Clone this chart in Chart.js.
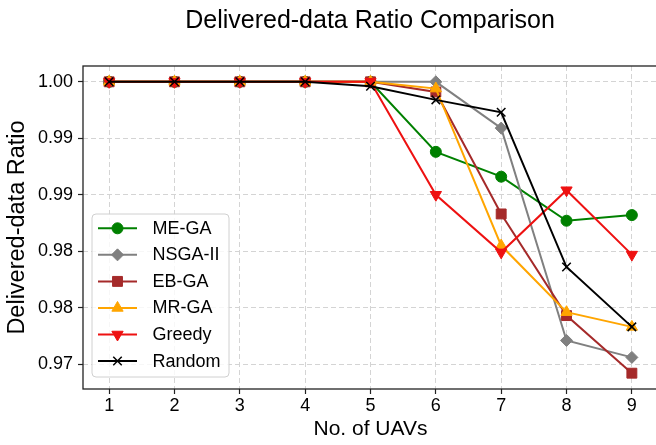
<!DOCTYPE html>
<html>
<head>
<meta charset="utf-8">
<script src="https://cdn.jsdelivr.net/npm/chart.js@4/dist/chart.umd.min.js"></script>
<style>
html,body{margin:0;padding:0;background:#fff;overflow:hidden;}
#wrap{width:666px;height:445px;}
</style>
</head>
<body>
<div id="wrap"><canvas id="c" width="666" height="445"></canvas></div>
<script>
// ---- data ----
const chartTitle = 'Delivered-data Ratio Comparison';
const uavCounts = [1, 2, 3, 4, 5, 6, 7, 8, 9];
const seriesNames = ['ME-GA', 'NSGA-II', 'EB-GA', 'MR-GA', 'Greedy', 'Random'];
const meGA    = [1.0, 1.0, 1.0, 1.0, 1.0,    0.9938, 0.9916, 0.9877, 0.9882];
const nsgaII  = [1.0, 1.0, 1.0, 1.0, 1.0,    1.0,    0.9959, 0.9771, 0.9756];
const ebGA    = [1.0, 1.0, 1.0, 1.0, 1.0,    0.9991, 0.9883, 0.9793, 0.9742];
const mrGA    = [1.0, 1.0, 1.0, 1.0, 1.0,    0.9994, 0.9855, 0.9796, 0.9783];
const greedy  = [1.0, 1.0, 1.0, 1.0, 1.0,    0.9900, 0.9849, 0.9904, 0.9847];
const randomS = [1.0, 1.0, 1.0, 1.0, 0.9996, 0.9984, 0.9973, 0.9836, 0.9783];
const yTickValues = [0.975, 0.980, 0.985, 0.990, 0.995, 1.000];
const yTickLabels = ['0.97', '0.98', '0.98', '0.99', '0.99', '1.00'];
const xTickValues = [1, 2, 3, 4, 5, 6, 7, 8, 9];

const FONT = '"Liberation Sans", Arial, Helvetica, sans-serif';
Chart.defaults.font.family = FONT;
Chart.defaults.color = '#000';

const styles = [
  {color: '#008000', pointStyle: 'circle',   radius: 5.5, rotation: 0,   bw: 1},
  {color: '#808080', pointStyle: 'rectRot',  radius: 6,   rotation: 0,   bw: 1},
  {color: '#a52a2a', pointStyle: 'rect',     radius: 7,   rotation: 0,   bw: 1},
  {color: '#ffa500', pointStyle: 'triangle', radius: 6.5, rotation: 0,   bw: 1},
  {color: '#ee1111', pointStyle: 'triangle', radius: 6.5, rotation: 180, bw: 1},
  {color: '#000000', pointStyle: 'crossRot', radius: 6,   rotation: 0,   bw: 1.5}
];
const seriesData = [meGA, nsgaII, ebGA, mrGA, greedy, randomS];

const datasets = seriesData.map((vals, i) => ({
  label: seriesNames[i],
  data: vals.map((v, k) => ({x: uavCounts[k], y: v})),
  borderColor: styles[i].color,
  backgroundColor: styles[i].color,
  pointBackgroundColor: styles[i].color,
  pointBorderColor: styles[i].color,
  pointStyle: styles[i].pointStyle,
  pointRadius: styles[i].radius,
  pointRotation: styles[i].rotation,
  pointBorderWidth: styles[i].bw,
  borderWidth: 2,
  tension: 0,
  order: seriesNames.length - 1 - i
}));

function drawMarker(ctx, st, x, y) {
  if (Chart.helpers && Chart.helpers.drawPoint) {
    Chart.helpers.drawPoint(ctx, {pointStyle: st.pointStyle, radius: st.radius, rotation: st.rotation, borderWidth: st.bw}, x, y);
  }
}

const bgPlugin = {
  id: 'bg',
  beforeDraw(chart) {
    const ctx = chart.ctx;
    ctx.save();
    ctx.fillStyle = '#fff';
    ctx.fillRect(0, 0, chart.width, chart.height);
    ctx.font = '25px ' + FONT;
    ctx.fillStyle = '#000';
    ctx.textAlign = 'center';
    ctx.textBaseline = 'alphabetic';
    ctx.fillText(chartTitle, 370, 28);
    ctx.restore();
  }
};

const framePlugin = {
  id: 'frame',
  afterDatasetsDraw(chart) {
    const {ctx, chartArea: a} = chart;
    ctx.save();
    ctx.strokeStyle = '#222';
    ctx.lineWidth = 1.3;
    ctx.strokeRect(a.left, a.top, a.right - a.left, a.bottom - a.top);
    ctx.restore();
  }
};

const legendPlugin = {
  id: 'customLegend',
  afterDraw(chart) {
    const ctx = chart.ctx;
    ctx.save();
    const bx = 92, by = 214, bw = 137, bh = 163, r = 4;
    ctx.beginPath();
    ctx.moveTo(bx + r, by);
    ctx.arcTo(bx + bw, by, bx + bw, by + bh, r);
    ctx.arcTo(bx + bw, by + bh, bx, by + bh, r);
    ctx.arcTo(bx, by + bh, bx, by, r);
    ctx.arcTo(bx, by, bx + bw, by, r);
    ctx.closePath();
    ctx.fillStyle = 'rgba(255,255,255,0.8)';
    ctx.fill();
    ctx.strokeStyle = '#d0d0d0';
    ctx.lineWidth = 1;
    ctx.stroke();
    ctx.font = '18px ' + FONT;
    ctx.textBaseline = 'middle';
    ctx.textAlign = 'left';
    seriesNames.forEach((name, i) => {
      const y = 228.3 + i * 26.55;
      const st = styles[i];
      ctx.strokeStyle = st.color;
      ctx.fillStyle = st.color;
      ctx.lineWidth = 2;
      ctx.beginPath();
      ctx.moveTo(98, y);
      ctx.lineTo(137, y);
      ctx.stroke();
      ctx.lineWidth = st.bw;
      drawMarker(ctx, st, 117.5, y);
      ctx.fillStyle = '#000';
      ctx.fillText(name, 152.5, y + 0.5);
    });
    ctx.restore();
  }
};

new Chart(document.getElementById('c'), {
  type: 'line',
  data: {datasets},
  plugins: [bgPlugin, framePlugin, legendPlugin],
  options: {
    responsive: false,
    animation: false,
    layout: {padding: {left: 0, right: 2, top: 66, bottom: 0}},
    plugins: {
      legend: {display: false},
      tooltip: {enabled: false},
      title: {display: false}
    },
    scales: {
      x: {
        type: 'linear',
        min: 0.6,
        max: 9.4,
        afterBuildTicks(scale) { scale.ticks = xTickValues.map(v => ({value: v})); },
        afterFit(scale) { scale.height = 56; },
        ticks: {
          font: {size: 18},
          color: '#000',
          padding: 1,
          callback: (v) => String(v)
        },
        grid: {color: '#d4d4d4', lineWidth: 1, tickLength: 5, tickColor: '#222', tickWidth: 1.2, drawTicks: true},
        border: {display: false, dash: [5, 3]},
        title: {display: true, text: 'No. of UAVs', font: {size: 21}, color: '#000', padding: {top: 0, bottom: 3.4}}
      },
      y: {
        type: 'linear',
        min: 0.9728,
        max: 1.0014,
        afterBuildTicks(scale) { scale.ticks = yTickValues.map(v => ({value: v})); },
        afterFit(scale) { scale.width = 83; },
        ticks: {
          font: {size: 18},
          color: '#000',
          padding: 5,
          callback: function(v) {
            const k = yTickValues.findIndex(t => Math.abs(t - v) < 1e-9);
            return k >= 0 ? yTickLabels[k] : '';
          }
        },
        grid: {color: '#d4d4d4', lineWidth: 1, tickLength: 5, tickColor: '#222', tickWidth: 1.2, drawTicks: true},
        border: {display: false, dash: [5, 3]},
        title: {display: true, text: 'Delivered-data Ratio', font: {size: 23.5}, color: '#000', padding: {top: 3.5, bottom: 0}}
      }
    }
  }
});
</script>
</body>
</html>
